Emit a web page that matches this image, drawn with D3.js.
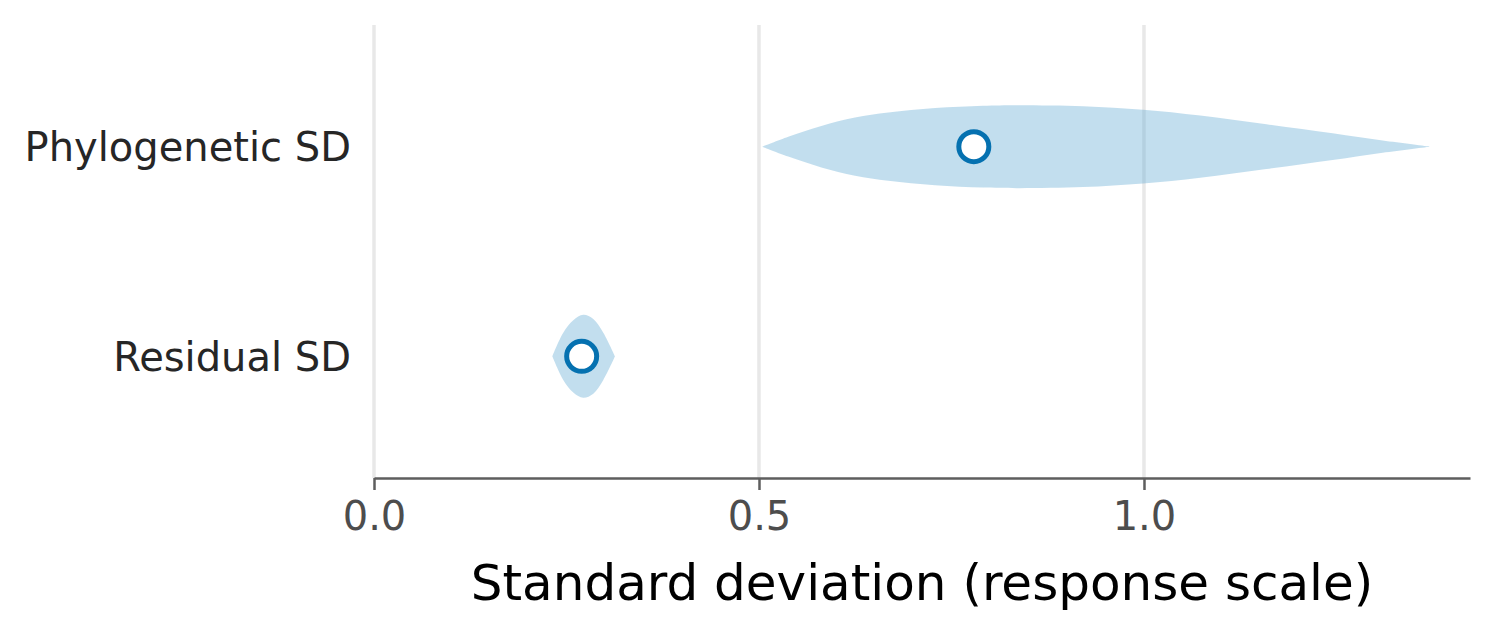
<!DOCTYPE html>
<html>
<head>
<meta charset="utf-8">
<script src="https://cdn.jsdelivr.net/npm/d3@7"></script>
<style>
  body { margin: 0; background: #fff; }
  svg { font-family: "DejaVu Sans", sans-serif; }
</style>
</head>
<body>
<div id="chart"></div>
<script>
// parameter names, top to bottom
var categories = ["Phylogenetic SD", "Residual SD"];
// point estimates
var estimates = [0.779, 0.2697];
// violin outlines: x positions (sd) and relative width
var phyloX = [0.5043, 0.538, 0.581, 0.6247, 0.668, 0.7286, 0.791, 0.835, 0.921, 0.999, 1.073, 1.159, 1.245, 1.310, 1.371];
var phyloW = [0, 0.24, 0.50, 0.70, 0.82, 0.93, 0.985, 1.0, 0.975, 0.89, 0.75, 0.54, 0.32, 0.145, 0];
var residX = [0.2316, 0.2458, 0.2588, 0.2718, 0.2848, 0.2978, 0.313];
var residW = [0, 0.57, 0.87, 1.0, 0.90, 0.57, 0];
var violins = [
  { name: categories[0], xs: phyloX, ws: phyloW, est: estimates[0] },
  { name: categories[1], xs: residX, ws: residW, est: estimates[1] }
];
var xTicks = [0, 0.5, 1.0];
var xTitle = "Standard deviation (response scale)";

var W = 1497, H = 633;
var plotL = 374, plotR = 1470, plotT = 25, plotB = 478;

var svg = d3.select("#chart").append("svg")
    .attr("width", W)
    .attr("height", H);

var x = d3.scaleLinear().domain([0, 1.4234]).range([plotL, plotR]);
var y = d3.scalePoint().domain(categories).range([plotT, plotB]).padding(0.58);
var half = 41.5; // max half-width of a violin in px

// grid lines
svg.selectAll(".grid")
    .data(xTicks)
    .enter()
    .append("line")
    .attr("x1", function(d) { return x(d); })
    .attr("x2", function(d) { return x(d); })
    .attr("y1", plotT)
    .attr("y2", plotB)
    .attr("stroke", "#e8e8e8")
    .attr("stroke-width", 3.5);

// violins
var area = d3.area()
    .x(function(d) { return x(d[0]); })
    .y0(function(d) { return d[2] + d[1] * half; })
    .y1(function(d) { return d[2] - d[1] * half; })
    .curve(d3.curveCatmullRom.alpha(0.5));

svg.selectAll(".violin")
    .data(violins)
    .enter()
    .append("path")
    .attr("class", "violin")
    .attr("d", function(v) {
        var pts = v.xs.map(function(xv, i) { return [xv, v.ws[i], y(v.name)]; });
        return area(pts);
    })
    .attr("fill", "rgb(106,174,214)")
    .attr("fill-opacity", 0.41);

// point estimates
svg.selectAll(".est")
    .data(violins)
    .enter()
    .append("circle")
    .attr("cx", function(v) { return x(v.est); })
    .attr("cy", function(v) { return y(v.name); })
    .attr("r", 15)
    .attr("fill", "#fff")
    .attr("stroke", "#0571b0")
    .attr("stroke-width", 5);

// x axis
var xAxis = d3.axisBottom(x)
    .tickValues(xTicks)
    .tickFormat(d3.format(".1f"))
    .tickSizeInner(12)
    .tickSizeOuter(0)
    .tickPadding(12);

var gx = svg.append("g")
    .attr("transform", "translate(0," + plotB + ")")
    .call(xAxis);
gx.select(".domain").attr("stroke", "#5e5e5e").attr("stroke-width", 2.5);
gx.selectAll(".tick line").attr("stroke", "#5e5e5e").attr("stroke-width", 2.5);
gx.selectAll(".tick text")
    .attr("fill", "#4d4d4d")
    .attr("font-size", 40)
    .attr("font-family", "DejaVu Sans");

svg.append("text")
    .attr("x", (plotL + plotR) / 2)
    .attr("y", 600)
    .attr("text-anchor", "middle")
    .attr("font-size", 50)
    .attr("fill", "#000")
    .text(xTitle);

// y labels
svg.selectAll(".ylab")
    .data(categories)
    .enter()
    .append("text")
    .attr("x", 351)
    .attr("y", function(d) { return y(d); })
    .attr("dy", "0.36em")
    .attr("text-anchor", "end")
    .attr("font-size", 40)
    .attr("fill", "#262626")
    .text(function(d) { return d; });
</script>
</body>
</html>
